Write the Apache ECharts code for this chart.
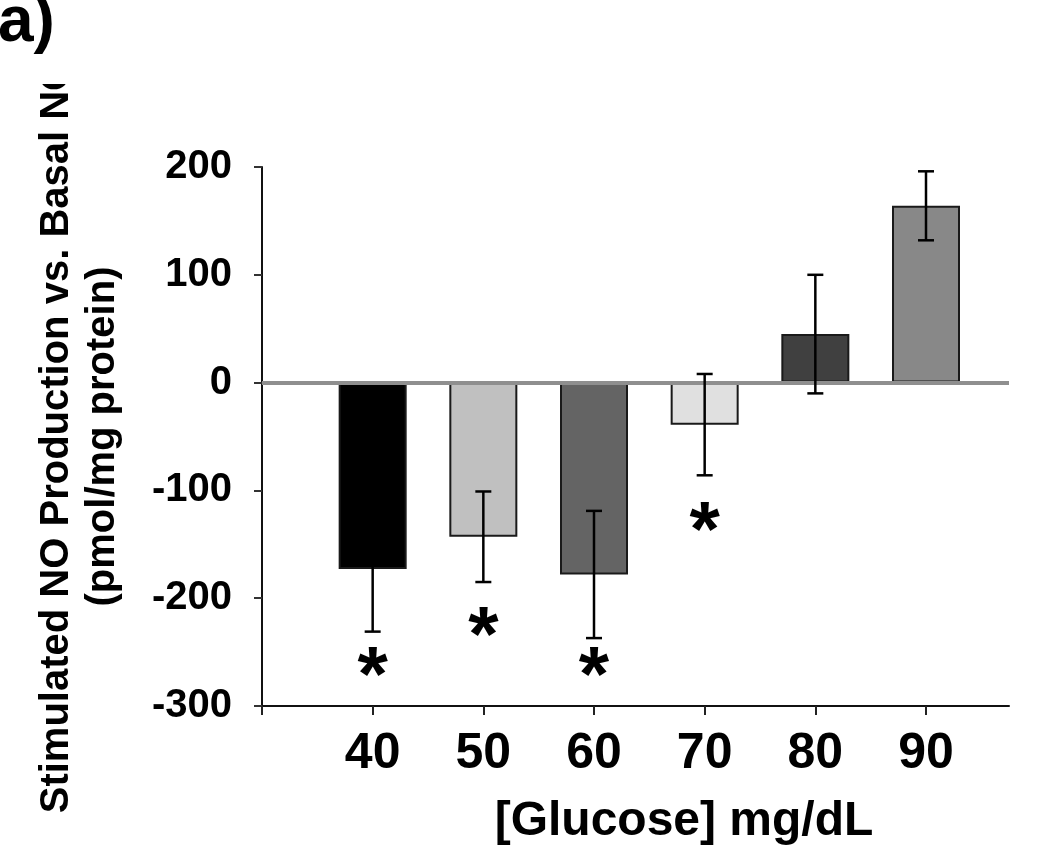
<!DOCTYPE html>
<html>
<head>
<meta charset="utf-8">
<script src="https://cdn.jsdelivr.net/npm/echarts@6/dist/echarts.min.js"></script>
<style>
  html, body { margin: 0; padding: 0; background: #ffffff; }
  #chart { width: 1050px; height: 864px; }
</style>
</head>
<body>
<div id="chart"></div>
<script>
// ---- data ----
const glucose = [40, 50, 60, 70, 80, 90];              // mg/dL categories
const meanNO = [-173, -143, -178, -39, 45, 164];        // bar values
const semNO = [58, 42, 59, 47, 55, 32];                 // error bar half-lengths
const starGlucose = [40, 50, 60, 70];                   // significance markers
const starY = [-262, -225, -262, -128];
const barColors = ['#000000', '#c0c0c0', '#646464', '#e0e0e0', '#404040', '#888888'];
const yMin = -300, yMax = 200, yStep = 100;
const xMin = 30, xMax = 97.5, xStep = 10;

const FONT = 'Liberation Sans, Arial, sans-serif';

const chart = echarts.init(document.getElementById('chart'), null, { renderer: 'canvas' });

const barData = glucose.map((g, i) => ({
  value: [g, meanNO[i]],
  itemStyle: { color: barColors[i] }
}));

const errData = glucose.map((g, i) => [g, meanNO[i], semNO[i]]);
const starData = starGlucose.map((g, i) => [g, starY[i]]);

chart.setOption({
  backgroundColor: '#ffffff',
  animation: false,
  grid: {
    left: 262, top: 167, width: 747, height: 539,
    containLabel: false,
    outerBoundsMode: 'none'
  },
  xAxis: {
    type: 'value',
    min: xMin, max: xMax, interval: xStep,
    splitLine: { show: false },
    axisLine: { onZero: false, lineStyle: { color: '#111', width: 2 } },
    axisTick: { show: true, length: 9, lineStyle: { color: '#222', width: 2 },
                customValues: [xMin].concat(glucose) },
    axisLabel: {
      customValues: glucose,
      margin: 23,
      color: '#000',
      fontFamily: FONT, fontWeight: 'bold', fontSize: 50
    },
    name: '[Glucose] mg/dL',
    nameLocation: 'middle',
    nameGap: 92,
    nameTextStyle: {
      color: '#000', fontFamily: FONT, fontWeight: 'bold', fontSize: 48,
      padding: [0, 0, 0, 97]
    }
  },
  yAxis: {
    type: 'value',
    min: yMin, max: yMax, interval: yStep,
    splitLine: { show: false },
    axisLine: { onZero: false, lineStyle: { color: '#111', width: 2 } },
    axisTick: { show: true, length: 8, lineStyle: { color: '#333', width: 2 } },
    axisLabel: {
      margin: 30,
      color: '#000',
      fontFamily: FONT, fontWeight: 'bold', fontSize: 40
    },
    name: 'Stimulated NO Production vs. Basal NO\n(pmol/mg protein)',
    nameLocation: 'middle',
    nameGap: 136,
    nameTextStyle: {
      color: '#000', fontFamily: FONT, fontWeight: 'bold', fontSize: 40,
      lineHeight: 46
    }
  },
  series: [
    {
      type: 'bar',
      data: barData,
      barWidth: 68,
      itemStyle: { borderColor: '#1a1a1a', borderWidth: 2 },
      z: 3,
      markLine: {
        silent: true,
        symbol: 'none',
        label: { show: false },
        lineStyle: { color: '#8f8f8f', width: 4, type: 'solid' },
        data: [{ yAxis: 0 }],
        z: 4
      }
    },
    {
      type: 'custom',
      data: errData,
      encode: { x: 0, y: 1 },
      z: 5,
      renderItem: function (params, api) {
        const x = api.value(0), m = api.value(1), e = api.value(2);
        const top = api.coord([x, m + e]);
        const bot = api.coord([x, m - e]);
        const hw = 8;
        const st = { stroke: '#000000', lineWidth: 2.5 };
        return {
          type: 'group',
          children: [
            { type: 'line', shape: { x1: top[0], y1: top[1], x2: bot[0], y2: bot[1] }, style: st },
            { type: 'line', shape: { x1: top[0] - hw, y1: top[1], x2: top[0] + hw, y2: top[1] }, style: st },
            { type: 'line', shape: { x1: bot[0] - hw, y1: bot[1], x2: bot[0] + hw, y2: bot[1] }, style: st }
          ]
        };
      }
    },
    {
      type: 'scatter',
      data: starData,
      symbol: 'circle',
      symbolSize: 2,
      itemStyle: { color: 'rgba(255,255,255,0)' },
      z: 6,
      label: {
        show: true,
        position: 'inside',
        formatter: '*',
        offset: [0, 14],
        color: '#000000',
        opacity: 1,
        textBorderWidth: 0,
        textShadowBlur: 0,
        fontFamily: FONT, fontWeight: 'bold', fontSize: 78
      }
    }
  ],
  graphic: [
    {
      type: 'rect',
      z: 100,
      shape: { x: 20, y: 0, width: 80, height: 84 },
      style: { fill: '#ffffff' }
    },
    {
      type: 'text',
      z: 101,
      style: {
        x: -2, y: 23,
        text: 'a)',
        font: 'bold 64px ' + FONT,
        fill: '#000',
        verticalAlign: 'middle'
      }
    }
  ]
});
</script>
</body>
</html>
